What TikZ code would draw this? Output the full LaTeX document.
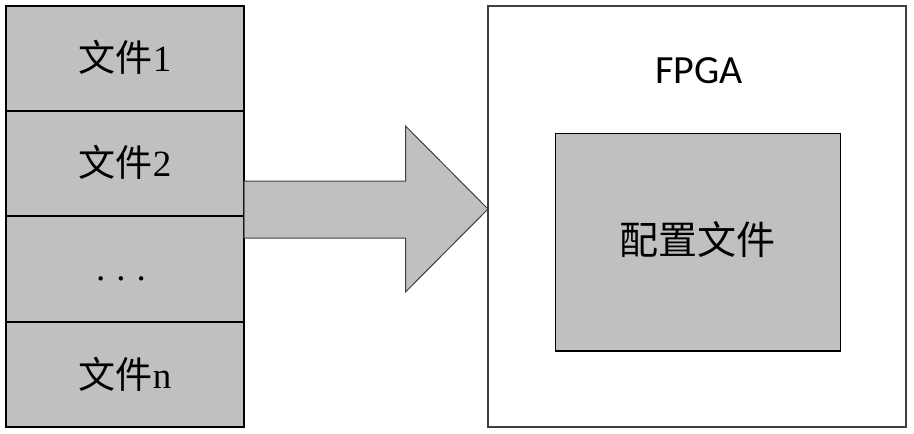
\documentclass[tikz,border=0pt]{standalone}
\usepackage{fontspec}
\setmainfont{Liberation Serif}
\newfontfamily\cjk{Noto Sans CJK SC}
\newfontfamily\calib{Carlito}
\definecolor{boxgray}{HTML}{C0C0C0}
\definecolor{edgegray}{HTML}{404040}
\begin{document}
\begin{tikzpicture}[x=1pt,y=-1pt,
  filebox/.style={draw=black, line width=1.5pt, fill=boxgray, inner sep=0pt},
  filetext/.style={font=\fontsize{37}{40}\selectfont, inner sep=0pt}]
\useasboundingbox (0,0) rectangle (914,434);
% left stack
\draw[filebox] (6,6) rectangle (244,111);
\draw[filebox] (6,111) rectangle (244,216);
\draw[filebox] (6,216) rectangle (244,322);
\draw[filebox] (6,322) rectangle (244,427);
\node[filetext] (t1) at (125,57) {{\cjk 文件}1};
\node[filetext] (t2) at (125,162) {{\cjk 文件}2};
\node[filetext] (t3) at (121,279) {.\hspace{11pt}.\hspace{11pt}.};
\node[filetext] (t4) at (125,374) {{\cjk 文件}n};
% arrow
\draw[draw=edgegray, line width=1pt, fill=boxgray, line join=miter]
  (244,181) -- (405.5,181) -- (405.5,126) -- (488,209) -- (405.5,292) -- (405.5,238) -- (244,238) -- cycle;
% FPGA box
\draw[draw=edgegray, line width=1.3pt] (488,6) rectangle (906,427);
\node[font=\calib\fontsize{40}{44}\selectfont, inner sep=0pt] (fpga) at (699,71) {FPGA};
\draw[filebox] (555.5,133.5) rectangle (840.5,351);
\node[font=\cjk\fontsize{39}{44}\selectfont, inner sep=0pt] (cfg) at (697,240) {配置文件};
\end{tikzpicture}
\end{document}
